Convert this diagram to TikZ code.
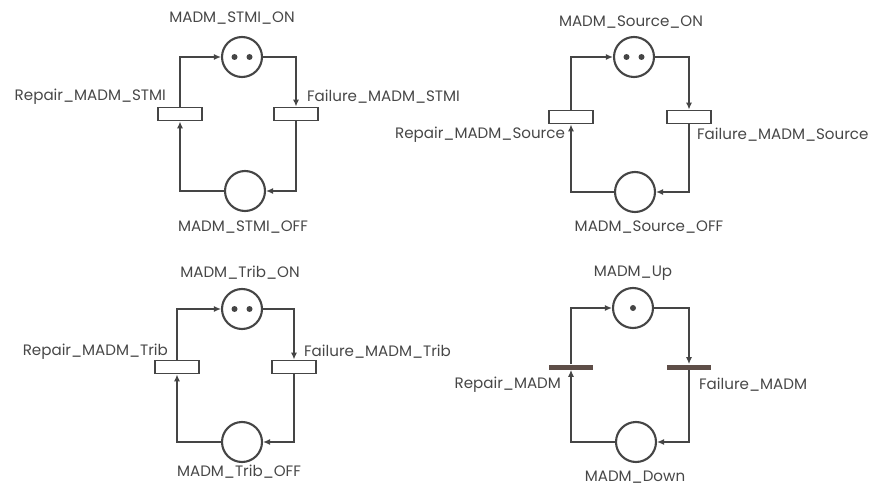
\documentclass[tikz,border=0pt]{standalone}
\usepackage{fontspec}
\setmainfont{Poppins}
\usetikzlibrary{arrows.meta,positioning,calc}
\definecolor{Ink}{HTML}{454545}
\definecolor{TextGray}{HTML}{474747}
\definecolor{BarBrown}{HTML}{5E4E48}
\tikzset{
 place/.style={draw=Ink, circle, line width=1.2pt, minimum size=0.8cm, inner sep=0pt},
 trans/.style={draw=Ink, line width=1.1pt, fill=white, minimum width=0.88cm, minimum height=0.26cm, inner sep=0pt},
 bar/.style={fill=BarBrown, minimum width=0.88cm, minimum height=0.1cm, inner sep=0pt},
 token/.style={circle, fill=Ink, minimum size=0.12cm, inner sep=0pt},
 lbl/.style={font=\fontsize{8.6}{10}\selectfont, text=TextGray, inner sep=1pt},
 arc/.style={-{Latex[length=4pt,width=3.5pt]}, draw=Ink, line width=0.75pt}
}

\begin{document}
\begin{tikzpicture}[x=0.02cm,y=-0.02cm]
\useasboundingbox (0,0) rectangle (885,486);
% STMI net
\node[place] (on1) at (242,57) {};
\node[place] (off1) at (245,191) {};
\node[trans] (rep1) at (180,114) {};
\node[trans] (fail1) at (296,114) {};
\node[token] (tok1a) at ([xshift=-0.15cm]on1.center) {};
\node[token] (tok1b) at ([xshift=0.15cm]on1.center) {};
\node[lbl] (on1t) at (232,18) {MADM\_STMI\_ON};
\node[lbl] (off1t) at (243,227) {MADM\_STMI\_OFF};
\node[lbl,anchor=east] (rep1t) at (168,97) {Repair\_MADM\_STMI};
\node[lbl,anchor=west] (fail1t) at (305,97) {Failure\_MADM\_STMI};
\draw[arc] (rep1.north) |- (on1.west);
\draw[arc] (on1.east) -| (fail1.north);
\draw[arc] (fail1.south) |- (off1.east);
\draw[arc] (off1.west) -| (rep1.south);
% Source net
\node[place] (on2) at (634,57) {};
\node[place] (off2) at (635,192) {};
\node[trans] (rep2) at (571,117) {};
\node[trans] (fail2) at (689,117) {};
\node[token] (tok2a) at ([xshift=-0.15cm]on2.center) {};
\node[token] (tok2b) at ([xshift=0.15cm]on2.center) {};
\node[lbl] (on2t) at (631,22) {MADM\_Source\_ON};
\node[lbl] (off2t) at (649,227) {MADM\_Source\_OFF};
\node[lbl,anchor=east] (rep2t) at (567,135) {Repair\_MADM\_Source};
\node[lbl,anchor=west] (fail2t) at (695,135) {Failure\_MADM\_Source};
\draw[arc] (rep2.north) |- (on2.west);
\draw[arc] (on2.east) -| (fail2.north);
\draw[arc] (fail2.south) |- (off2.east);
\draw[arc] (off2.west) -| (rep2.south);
% Trib net
\node[place] (on3) at (242,309) {};
\node[place] (off3) at (242,442) {};
\node[trans] (rep3) at (177,367) {};
\node[trans] (fail3) at (294,367) {};
\node[token] (tok3a) at ([xshift=-0.15cm]on3.center) {};
\node[token] (tok3b) at ([xshift=0.15cm]on3.center) {};
\node[lbl] (on3t) at (240,273) {MADM\_Trib\_ON};
\node[lbl] (off3t) at (239,472) {MADM\_Trib\_OFF};
\node[lbl,anchor=east] (rep3t) at (170,352) {Repair\_MADM\_Trib};
\node[lbl,anchor=west] (fail3t) at (302,352) {Failure\_MADM\_Trib};
\draw[arc] (rep3.north) |- (on3.west);
\draw[arc] (on3.east) -| (fail3.north);
\draw[arc] (fail3.south) |- (off3.east);
\draw[arc] (off3.west) -| (rep3.south);
% MADM net
\node[place] (on4) at (633,308) {};
\node[place] (off4) at (636,442) {};
\node[bar] (rep4) at (571,367) {};
\node[bar] (fail4) at (689,367) {};
\node[token] (tok4) at (on4.center) {};
\node[lbl] (on4t) at (633,273) {MADM\_Up};
\node[lbl] (off4t) at (635,477) {MADM\_Down};
\node[lbl,anchor=east] (rep4t) at (563,385) {Repair\_MADM};
\node[lbl,anchor=west] (fail4t) at (697,385) {Failure\_MADM};
\draw[arc] (rep4.north) |- (on4.west);
\draw[arc] (on4.east) -| (fail4.north);
\draw[arc] (fail4.south) |- (off4.east);
\draw[arc] (off4.west) -| (rep4.south);
\end{tikzpicture}
\end{document}
